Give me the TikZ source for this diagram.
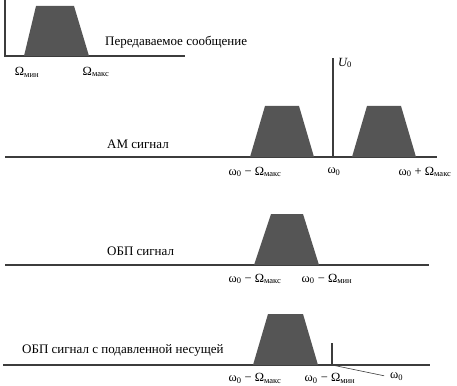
\documentclass[tikz,border=0pt]{standalone}
\usepackage{fontspec}
\setmainfont{Liberation Serif}
\definecolor{specgray}{RGB}{85,85,85}
\definecolor{axisgray}{RGB}{60,60,60}
\begin{document}
\begin{tikzpicture}[x=1pt,y=-1pt,
  axis/.style={draw=axisgray,line width=1.3pt},
  band/.style={fill=specgray},
  lbl/.style={font=\fontsize{12.5}{13}\selectfont,inner sep=0pt,text=black},
  ttl/.style={font=\fontsize{13}{14}\selectfont,inner sep=0pt,text=black}]
\useasboundingbox (0,0) rectangle (457,385);
\newcommand{\sbm}[1]{\textsubscript{\fontsize{8.5}{9}\selectfont #1}}
% --- top panel
\draw[axis] (5,0) -- (5,56) -- (185,56);
\fill[band] (24,56) -- (36,6) -- (74,6) -- (89,56) -- cycle;
\node[ttl,anchor=west] (t1) at (105,42) {Передаваемое сообщение};
\node[lbl] (wmin) at (27,72) {Ω\sbm{мин}};
\node[lbl] (wmax) at (96,72) {Ω\sbm{макс}};
% --- AM panel
\draw[axis] (5,157) -- (437,157);
\fill[band] (250,157) -- (265,106) -- (299,106) -- (314,157) -- cycle;
\fill[band] (352,157) -- (367,106) -- (401,106) -- (416,157) -- cycle;
\draw[axis,line width=1.6pt] (333,157) -- (333,58);
\node[lbl,anchor=west] (u0) at (338,63) {\itshape U\textsubscript{\upshape\fontsize{8.5}{9}\selectfont 0}};
\node[ttl,anchor=west] (t2) at (107,144) {АМ сигнал};
\node[lbl] (a1) at (255,172) {ω\sbm{0} − Ω\sbm{макс}};
\node[lbl] (a2) at (334,172) {ω\sbm{0}};
\node[lbl] (a3) at (425,172) {ω\sbm{0} + Ω\sbm{макс}};
% --- SSB panel
\draw[axis] (5,265) -- (429,265);
\fill[band] (254,265) -- (271,214) -- (303,214) -- (319,265) -- cycle;
\node[ttl,anchor=west] (t3) at (107,251) {ОБП сигнал};
\node[lbl] (b1) at (255,279) {ω\sbm{0} − Ω\sbm{макс}};
\node[lbl] (b2) at (327,279) {ω\sbm{0} − Ω\sbm{мин}};
% --- SSB suppressed carrier panel
\draw[axis] (3,365) -- (430,365);
\fill[band] (253,365) -- (268,314) -- (303,314) -- (318,365) -- cycle;
\draw[axis,line width=1.4pt] (332,365) -- (332,343);
\coordinate (car) at (332,365);
\node[ttl,anchor=west] (t4) at (22,350) {ОБП сигнал с подавленной несущей};
\node[lbl] (c1) at (255,378) {ω\sbm{0} − Ω\sbm{макс}};
\node[lbl] (c2) at (330,378) {ω\sbm{0} − Ω\sbm{мин}};
\node[lbl,anchor=west] (c3) at (390,377) {ω\sbm{0}};
\draw[draw=axisgray,line width=0.6pt,shorten >=6pt] (car) -- (c3.west);
\end{tikzpicture}
\end{document}
